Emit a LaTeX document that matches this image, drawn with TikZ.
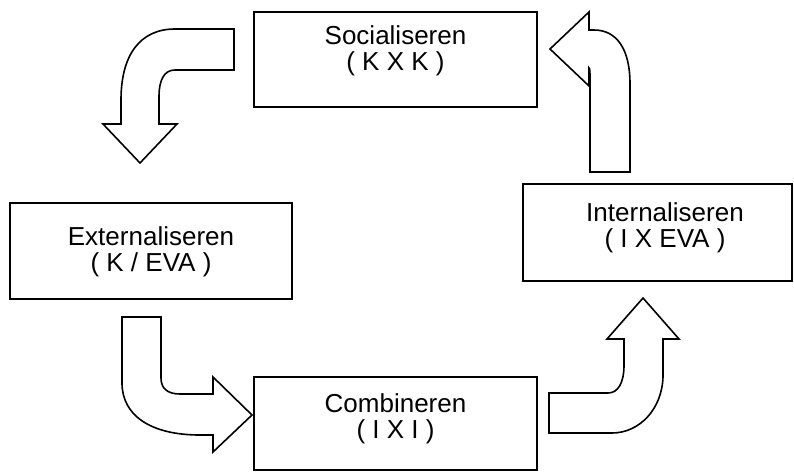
\documentclass[tikz,border=0pt]{standalone}
\usepackage{fontspec}
\setmainfont{Liberation Sans}
\usepackage{tikz}

\tikzset{
  box/.style={draw, rectangle, line width=1.7pt, inner sep=0pt},
  lbl/.style={anchor=base, inner sep=0pt, font=\fontsize{26}{26}\selectfont},
  bentarrow/.style={draw, line width=1.6pt, fill=white, line join=miter}
}

\begin{document}
\begin{tikzpicture}[x=1pt, y=-1pt]

    \useasboundingbox (0,0) rectangle (794,471);

    % the four boxes
    \node[box, minimum width=283pt, minimum height=95pt] (soc) at (395.5,59.5) {};
    \node[box, minimum width=282pt, minimum height=96pt] (ext) at (151,251) {};
    \node[box, minimum width=269pt, minimum height=97pt] (int) at (657.5,232.5) {};
    \node[box, minimum width=283pt, minimum height=93pt] (comb) at (395.5,423.5) {};

    \node[lbl] (soctitle) at (395.5,44.5) {Socialiseren};
    \node[lbl] (socsub) at (395.5,70.5) {( K X K )};
    \node[lbl] (exttitle) at (151,245) {Externaliseren};
    \node[lbl] (extsub) at (151,271) {( K / EVA )};
    \node[lbl] (inttitle) at (665,221) {Internaliseren};
    \node[lbl] (intsub) at (665,247) {( I X EVA )};
    \node[lbl] (combtitle) at (395.5,412) {Combineren};
    \node[lbl] (combsub) at (395.5,438) {( I X I )};

    % bent block arrows, clockwise round the cycle
    \draw[bentarrow] (234,29) -- (234,70) -- (175,70)
        .. controls (164,70) and (159,80) .. (159,97) -- (159,124)
        -- (177,124) -- (140,163) -- (103,124) -- (121,124) -- (121,100)
        .. controls (121,55) and (140,29) .. (175,29) -- cycle;

    \draw[bentarrow] (122,317) -- (161,317) -- (161,378)
        .. controls (161,388) and (167,394) .. (180,394) -- (213,394)
        -- (213,377) -- (252,415) -- (213,452) -- (213,435) -- (200,435)
        .. controls (150,435) and (122,415) .. (122,383) -- cycle;

    \draw[bentarrow] (549,433) -- (549,393) -- (608,393)
        .. controls (618,393) and (624,383) .. (624,365) -- (624,339)
        -- (607,339) -- (643,298) -- (679,339) -- (663,339) -- (663,375)
        .. controls (663,408) and (640,433) .. (612,433) -- cycle;

    \draw[bentarrow] (630,172) -- (590,172) -- (590,80)
        .. controls (590,72) and (590,68) .. (589,68) -- (589,86)
        -- (550,49) -- (589,12) -- (589,30) -- (594,30)
        .. controls (616,30) and (630,48) .. (630,84) -- cycle;

\end{tikzpicture}
\end{document}
